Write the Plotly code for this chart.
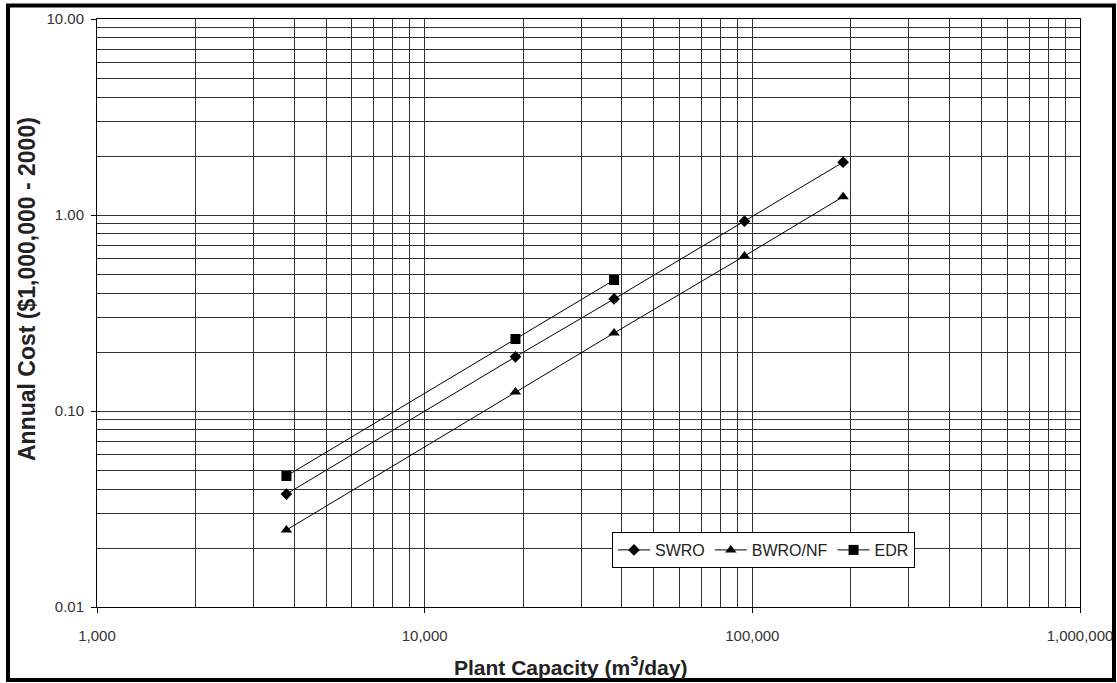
import plotly.graph_objects as go

capacity = [3785, 18927, 37854, 94635, 189270]
capacity_edr = [3785, 18927, 37854]
swro = [0.0377, 0.189, 0.373, 0.93, 1.86]
bwro = [0.0247, 0.125, 0.25, 0.618, 1.24]
edr = [0.0466, 0.233, 0.466]

x_major = [1000, 10000, 100000, 1000000]
x_labels = ["1,000", "10,000", "100,000", "1,000,000"]
y_major = [0.01, 0.1, 1, 10]
y_labels = ["0.01", "0.10", "1.00", "10.00"]

x_minor = [m * d for d in [1000, 10000, 100000] for m in range(2, 10)]
y_minor = [round(m * d, 4) for d in [0.01, 0.1, 1] for m in range(2, 10)]

W, H = 1117, 683
L, R, T, B = 97, 1080, 19, 607
FONT = "Liberation Sans, Arial, sans-serif"

fig = go.Figure()
fig.add_trace(go.Scatter(x=capacity, y=swro, name="SWRO", mode="lines+markers",
                         line=dict(color="black", width=1),
                         marker=dict(symbol="diamond", size=9, color="black")))
fig.add_trace(go.Scatter(x=capacity, y=bwro, name="BWRO/NF", mode="lines+markers",
                         line=dict(color="black", width=1),
                         marker=dict(symbol="triangle-up", size=10, color="black")))
fig.add_trace(go.Scatter(x=capacity_edr, y=edr, name="EDR", mode="lines+markers",
                         line=dict(color="black", width=1),
                         marker=dict(symbol="square", size=10, color="black")))

grid = "#333333"
fig.update_xaxes(type="log", range=[3, 6], tickvals=x_major, ticktext=x_labels,
                 automargin=False,
                 showgrid=True, gridcolor=grid, gridwidth=1,
                 ticks="outside", ticklen=5, tickcolor="black",
                 ticklabelstandoff=10,
                 showline=True, linecolor="black", linewidth=1, mirror=True,
                 minor=dict(tickvals=x_minor, showgrid=True, gridcolor=grid, gridwidth=1),
                 tickfont=dict(family=FONT, size=15, color="#333333"),
                 zeroline=False)
fig.update_yaxes(type="log", range=[-2, 1], tickvals=y_major, ticktext=y_labels,
                 automargin=False,
                 showgrid=True, gridcolor=grid, gridwidth=1,
                 ticks="outside", ticklen=5, tickcolor="black",
                 ticklabelstandoff=4,
                 showline=True, linecolor="black", linewidth=1, mirror=True,
                 minor=dict(tickvals=y_minor, showgrid=True, gridcolor=grid, gridwidth=1),
                 tickfont=dict(family=FONT, size=15, color="#333333"),
                 zeroline=False)

def px(x):
    return (x - L) / (R - L)

def py(y):
    return (B - y) / (B - T)

fig.add_shape(type="rect", xref="paper", yref="paper",
              x0=px(8), x1=px(1114), y0=py(680), y1=py(5.5),
              line=dict(color="black", width=4), layer="above")

fig.add_annotation(text="<b>Plant Capacity (m<sup>3</sup>/day)</b>", xref="paper", yref="paper",
                   x=px(570), y=py(666), xanchor="center", yanchor="middle", showarrow=False,
                   font=dict(family=FONT, size=21, color="#222222"))
fig.add_annotation(text="<b>Annual Cost ($1,000,000 - 2000)</b>", xref="paper", yref="paper",
                   x=px(27), y=py(289), xanchor="center", yanchor="middle", showarrow=False,
                   textangle=-90,
                   font=dict(family=FONT, size=23, color="#222222"))

fig.update_layout(
    width=W, height=H, autosize=False,
    margin=dict(l=L, r=W - R, t=T, b=H - B, autoexpand=False),
    paper_bgcolor="white", plot_bgcolor="white",
    showlegend=True,
    legend=dict(orientation="h", x=px(612), y=py(532), xanchor="left", yanchor="top",
                bgcolor="white", bordercolor="black", borderwidth=1,
                font=dict(family=FONT, size=16, color="#222222"),
                itemwidth=32, tracegroupgap=0),
)

fig.write_html("out.html", config={"displayModeBar": False},
               post_script="document.body.style.margin='0';document.body.style.overflow='hidden';")
